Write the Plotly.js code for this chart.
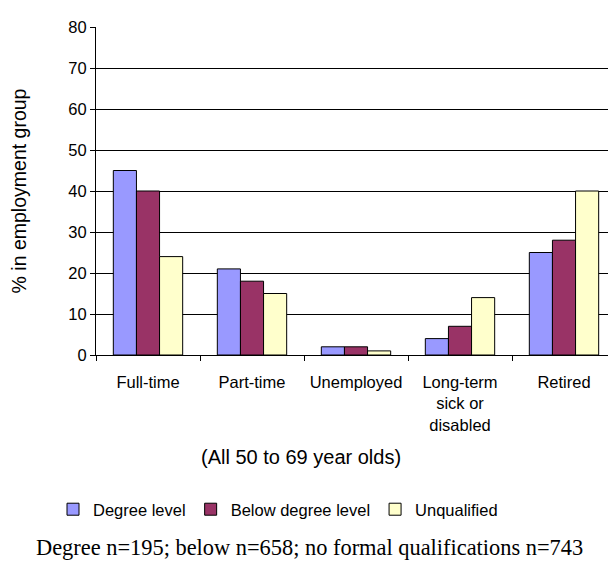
<!DOCTYPE html>
<html>
<head>
<meta charset="utf-8">
<script src="https://cdn.plot.ly/plotly-3.0.1.min.js"></script>
<style>
html, body { margin: 0; padding: 0; overflow: hidden; background: #fff; }
#chart { width: 616px; height: 566px; }
</style>
</head>
<body>
<div id="chart"></div>
<script>
const categories = ["Full-time", "Part-time", "Unemployed", "Long-term<br>sick or<br>disabled", "Retired"];
const degreeLevel = [45, 21, 2, 4, 25];
const belowDegree = [40, 18, 2, 7, 28];
const unqualified = [24, 15, 1, 14, 40];
const seriesNames = ["Degree level", "Below degree level", "Unqualified"];
const seriesColors = ["#9999FF", "#993366", "#FFFFCC"];
const yTicks = [0, 10, 20, 30, 40, 50, 60, 70, 80];

const font = "Liberation Sans, Arial, sans-serif";
const seriesValues = [degreeLevel, belowDegree, unqualified];

const traces = seriesValues.map((vals, i) => ({
  type: "bar",
  name: seriesNames[i],
  x: categories,
  y: vals,
  marker: { color: seriesColors[i], line: { color: "#000000", width: 1 } },
  hoverinfo: "skip"
}));

const layout = {
  width: 616,
  height: 566,
  margin: { l: 96, r: 0, t: 27, b: 210.7, pad: 0 },
  paper_bgcolor: "#ffffff",
  plot_bgcolor: "#ffffff",
  barmode: "group",
  bargap: 0.333,
  bargroupgap: 0,
  showlegend: true,
  font: { family: font, color: "#000000", size: 16.5 },
  xaxis: {
    type: "category",
    tickson: "boundaries",
    ticks: "outside",
    ticklen: 5,
    tickcolor: "#000000",
    ticklabelstandoff: 12,
    tickfont: { family: font, size: 16.5, color: "#000000" },
    showline: true,
    linecolor: "#000000",
    linewidth: 1,
    showgrid: false,
    zeroline: false,
    fixedrange: true
  },
  yaxis: {
    range: [0, 80],
    tickvals: yTicks,
    ticktext: yTicks.map(String),
    ticks: "outside",
    ticklen: 5,
    tickcolor: "#000000",
    tickfont: { family: font, size: 16.5, color: "#000000" },
    showline: true,
    linecolor: "#000000",
    linewidth: 1,
    showgrid: true,
    gridcolor: "#000000",
    gridwidth: 1,
    zeroline: false,
    fixedrange: true,
    title: { text: "% in employment group", font: { family: font, size: 19.5, color: "#000000" }, standoff: 36 }
  },
  legend: {
    orientation: "h",
    x: 0.35,
    xanchor: "center",
    y: -0.471,
    yanchor: "middle",
    font: { family: font, size: 16.5, color: "#000000" },
    itemwidth: 30,
    traceorder: "normal",
    bgcolor: "rgba(0,0,0,0)"
  },
  annotations: [
    {
      text: "(All 50 to 69 year olds)",
      xref: "paper", yref: "paper",
      x: 0.394, y: -0.31,
      xanchor: "center", yanchor: "middle",
      showarrow: false,
      font: { family: font, size: 20, color: "#000000" }
    },
    {
      text: "Degree n=195; below n=658; no formal qualifications n=743",
      xref: "paper", yref: "paper",
      x: 0.41, y: -0.587,
      xanchor: "center", yanchor: "middle",
      showarrow: false,
      font: { family: "Liberation Serif, Times New Roman, serif", size: 22.4, color: "#000000" }
    }
  ]
};

Plotly.newPlot("chart", traces, layout, { staticPlot: true, displayModeBar: false });
</script>
</body>
</html>
